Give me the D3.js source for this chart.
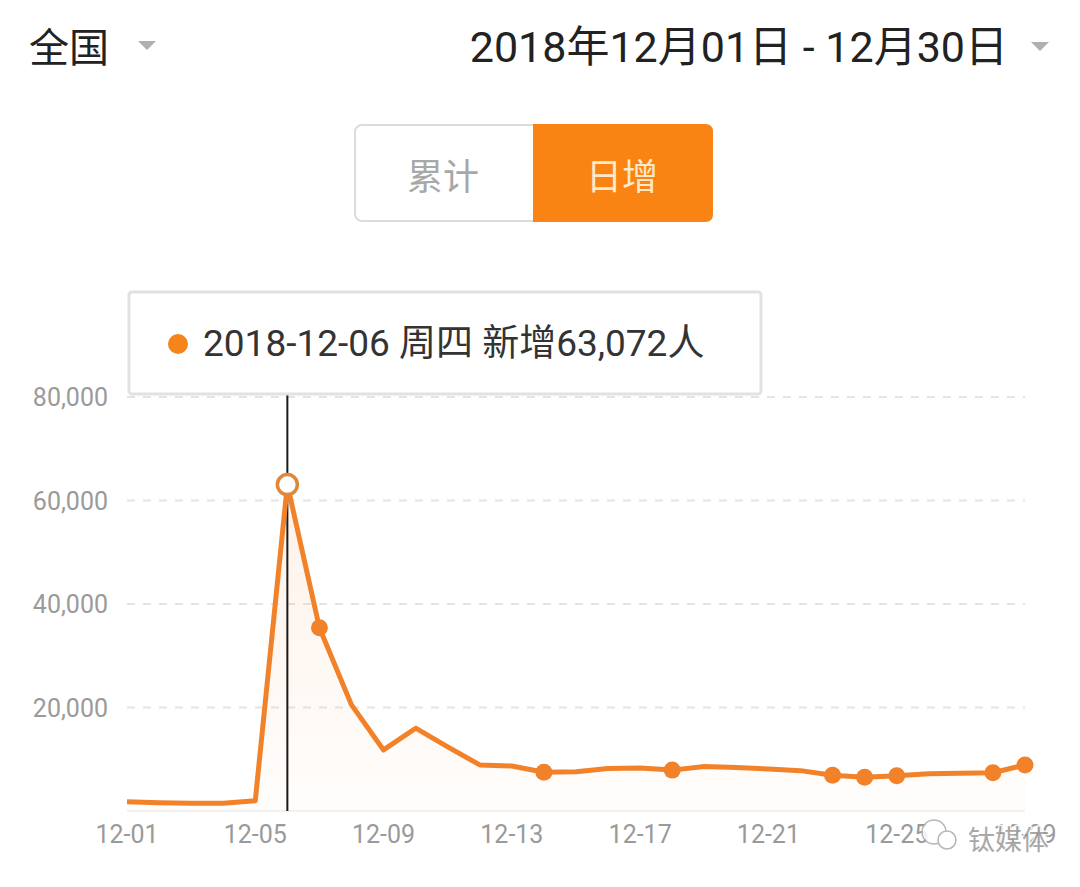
<!DOCTYPE html>
<html>
<head>
<meta charset="utf-8">
<script src="https://cdn.jsdelivr.net/npm/d3@7"></script>
<style>
  html, body { margin: 0; padding: 0; background: #fff; }
  svg { display: block; font-family: Roboto, "Noto Sans CJK SC", sans-serif; }
</style>
</head>
<body>
<svg id="chart" width="1080" height="887"></svg>
<script>
// ---- data ----
const dates = ["2018-12-01","2018-12-02","2018-12-03","2018-12-04","2018-12-05","2018-12-06","2018-12-07",
  "2018-12-08","2018-12-09","2018-12-10","2018-12-11","2018-12-12","2018-12-13","2018-12-14","2018-12-15",
  "2018-12-16","2018-12-17","2018-12-18","2018-12-19","2018-12-20","2018-12-21","2018-12-22","2018-12-23",
  "2018-12-24","2018-12-25","2018-12-26","2018-12-27","2018-12-28","2018-12-29"];
const dailyNew = [1800, 1600, 1500, 1500, 2000, 63072, 35400, 20500, 11800, 16000, 12400, 8900, 8700, 7500, 7600,
  8200, 8300, 7900, 8600, 8400, 8100, 7800, 6900, 6500, 6800, 7200, 7300, 7400, 8900];
const markerDates = ["2018-12-07","2018-12-14","2018-12-18","2018-12-23","2018-12-24","2018-12-25","2018-12-28","2018-12-29"];
const xTickLabels = ["12-01","12-05","12-09","12-13","12-17","12-21","12-25","12-29"];
const yTicks = [20000, 40000, 60000, 80000];
const selectedDate = "2018-12-06";
const tooltipText = "2018-12-06 周四 新增63,072人";
const regionLabel = "全国";
const rangeLabel = "2018年12月01日 - 12月30日";
const toggleLabels = ["累计", "日增"];
const watermark = "钛媒体";

// ---- setup ----
const parse = d3.timeParse("%Y-%m-%d");
const data = dates.map((d, i) => ({ date: parse(d), key: d, value: dailyNew[i] }));
const svg = d3.select("#chart");
const orange = "#f2822a";

const x = d3.scaleTime().domain([parse(dates[0]), parse(dates[dates.length - 1])]).range([127, 1025]);
const y = d3.scaleLinear().domain([0, 80000]).range([811, 397]);

// ---- header ----
svg.append("text").attr("x", 29).attr("y", 62).attr("font-size", 40).attr("fill", "#222").text(regionLabel);
svg.append("path").attr("d", "M138,41 L156,41 L147,50 Z").attr("fill", "#b0b0b0");
svg.append("text").attr("x", 1008).attr("y", 62).attr("text-anchor", "end").attr("font-size", 43)
  .attr("fill", "#222").text(rangeLabel);
svg.append("path").attr("d", "M1031,42 L1049,42 L1040,51 Z").attr("fill", "#b0b0b0");

// ---- toggle ----
const tg = svg.append("g");
tg.append("rect").attr("x", 355).attr("y", 125).attr("width", 357).attr("height", 96).attr("rx", 7)
  .attr("fill", "#fff").attr("stroke", "#dcdcdc").attr("stroke-width", 2);
tg.append("path").attr("d", "M533,124 L705,124 Q713,124 713,132 L713,214 Q713,222 705,222 L533,222 Z")
  .attr("fill", "#f98313");
tg.append("text").attr("x", 443).attr("y", 190).attr("text-anchor", "middle").attr("font-size", 36)
  .attr("fill", "#a8a8a8").text(toggleLabels[0]);
tg.append("text").attr("x", 622).attr("y", 190).attr("text-anchor", "middle").attr("font-size", 36)
  .attr("fill", "#fde8c8").text(toggleLabels[1]);

// ---- grid ----
svg.append("g").selectAll("line").data(yTicks).join("line")
  .attr("x1", 127).attr("x2", 1025).attr("y1", d => y(d)).attr("y2", d => y(d))
  .attr("stroke", "#e4e4e4").attr("stroke-width", 2).attr("stroke-dasharray", "8,8");
svg.append("line").attr("x1", 127).attr("x2", 1025).attr("y1", y(0)).attr("y2", y(0))
  .attr("stroke", "#f2f2f2").attr("stroke-width", 2);

// ---- y axis labels ----
const fmt = d3.format(",");
svg.append("g").selectAll("text").data(yTicks).join("text")
  .attr("x", 108).attr("y", d => y(d) + 9).attr("text-anchor", "end").attr("font-size", 25)
  .attr("fill", "#9a9a9a").text(d => fmt(d));

// ---- x axis labels ----
svg.append("g").selectAll("text").data(xTickLabels).join("text")
  .attr("x", d => x(parse("2018-" + d))).attr("y", 843).attr("text-anchor", "middle")
  .attr("font-size", 25).attr("fill", "#9a9a9a").text(d => d);

// ---- area + line ----
const grad = svg.append("defs").append("linearGradient").attr("id", "ag")
  .attr("x1", 0).attr("y1", 0).attr("x2", 0).attr("y2", 1);
grad.append("stop").attr("offset", "0%").attr("stop-color", orange).attr("stop-opacity", 0.1);
grad.append("stop").attr("offset", "100%").attr("stop-color", orange).attr("stop-opacity", 0.02);

svg.append("path").datum(data)
  .attr("d", d3.area().x(d => x(d.date)).y0(y(0)).y1(d => y(d.value)))
  .attr("fill", "url(#ag)");

// crosshair
const sel = data.find(d => d.key === selectedDate);
svg.append("line").attr("x1", x(sel.date)).attr("x2", x(sel.date)).attr("y1", 395).attr("y2", y(0))
  .attr("stroke", "#1a1a1a").attr("stroke-width", 2);

svg.append("path").datum(data)
  .attr("d", d3.line().x(d => x(d.date)).y(d => y(d.value)))
  .attr("fill", "none").attr("stroke", orange).attr("stroke-width", 5).attr("stroke-linejoin", "round");

svg.append("g").selectAll("circle").data(data.filter(d => markerDates.includes(d.key))).join("circle")
  .attr("cx", d => x(d.date)).attr("cy", d => y(d.value)).attr("r", 8.5).attr("fill", orange);

svg.append("circle").attr("cx", x(sel.date)).attr("cy", y(sel.value)).attr("r", 10)
  .attr("fill", "#fff").attr("stroke", "#e0883a").attr("stroke-width", 3.5);

// ---- tooltip ----
const tt = svg.append("g");
tt.append("rect").attr("x", 129).attr("y", 292).attr("width", 632).attr("height", 102).attr("rx", 3)
  .attr("fill", "#fff").attr("stroke", "#e2e2e2").attr("stroke-width", 3);
tt.append("circle").attr("cx", 178).attr("cy", 344).attr("r", 10).attr("fill", "#f5841b");
tt.append("text").attr("x", 203).attr("y", 356).attr("font-size", 37).attr("fill", "#333").text(tooltipText);

// ---- watermark ----
const wm = svg.append("g").attr("opacity", 0.85);
wm.append("circle").attr("cx", 934).attr("cy", 832).attr("r", 12).attr("fill", "#fff")
  .attr("stroke", "#aaa").attr("stroke-width", 1.5);
wm.append("circle").attr("cx", 947).attr("cy", 840).attr("r", 9).attr("fill", "#fff")
  .attr("stroke", "#aaa").attr("stroke-width", 1.5);
wm.append("text").attr("x", 968).attr("y", 850).attr("font-size", 27).attr("fill", "#999")
  .attr("stroke", "#fff").attr("stroke-width", 3).attr("paint-order", "stroke").text(watermark);
</script>
</body>
</html>
